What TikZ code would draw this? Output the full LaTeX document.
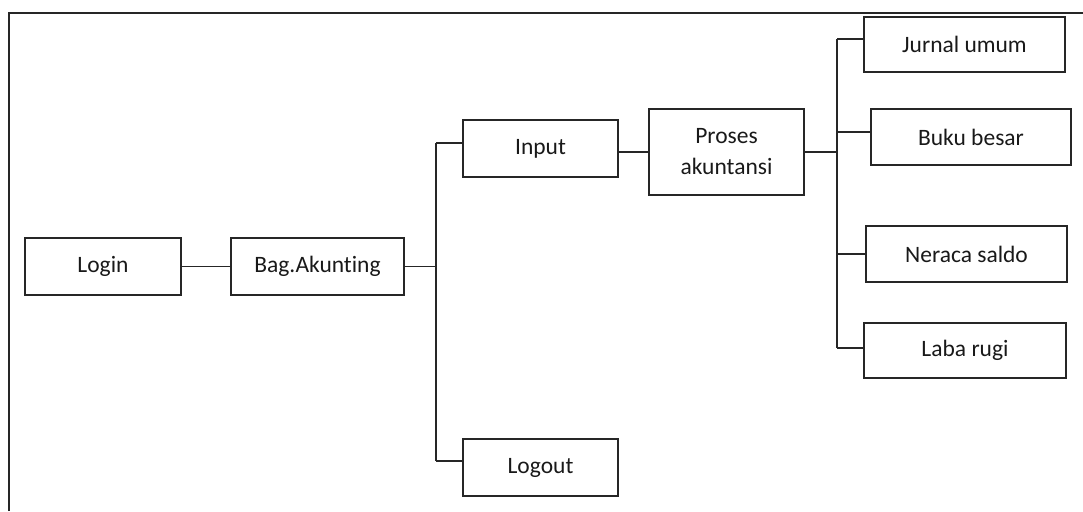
\documentclass[tikz,border=0pt]{standalone}
\usepackage{fontspec}
\setmainfont[Ligatures={NoCommon}]{Carlito}
\begin{document}
\begin{tikzpicture}[x=1pt,y=-1pt,
  box/.style={draw=black!85, line width=1.9pt, rectangle, inner sep=0pt, align=center,
    font=\fontsize{23.5}{31}\selectfont, text=black!90},
  link/.style={draw=black!85, line width=1.9pt}]
\useasboundingbox (0,0) rectangle (1083,511);
% outer frame (cropped)
\draw[line width=1.4pt, black!85] (9,511) -- (9,13) -- (1083,13);
% nodes
\node[box, minimum width=156pt, minimum height=57pt] (login)  at (103,266.5) {Login};
\node[box, minimum width=173pt, minimum height=57pt] (bag)    at (317.5,266.5) {Bag.Akunting};
\node[box, minimum width=155pt, minimum height=57pt] (input)  at (540.5,148.5) {Input};
\node[box, minimum width=155pt, minimum height=86pt] (proses) at (726.5,152) {Proses\\akuntansi};
\node[box, minimum width=155pt, minimum height=57pt] (logout) at (540.5,467.5) {Logout};
\node[box, minimum width=201pt, minimum height=55pt] (jurnal) at (964.5,44.5) {Jurnal umum};
\node[box, minimum width=200pt, minimum height=56pt] (buku)   at (971,137) {Buku besar};
\node[box, minimum width=201pt, minimum height=56pt] (neraca) at (966.5,254) {Neraca saldo};
\node[box, minimum width=202pt, minimum height=55pt] (laba)   at (965,350.5) {Laba rugi};
% trunks
\coordinate (t1a) at (436,143);
\coordinate (t1b) at (436,461);
\coordinate (t2a) at (837,39);
\coordinate (t2b) at (837,348);
\draw[link] (t1a) -- (t1b);
\draw[link] (t2a) -- (t2b);
% connectors
\draw[link] (login.east) -- (bag.west);
\draw[link] (bag.east) -- (bag.east -| t1a);
\draw[link] ([yshift=5.5pt]input.west) -- ([yshift=5.5pt]input.west -| t1a);
\draw[link] ([yshift=6.5pt]logout.west) -- ([yshift=6.5pt]logout.west -| t1a);
\draw[link] (proses.west) -- (proses.west -| input.east);
\draw[link] (proses.east) -- (proses.east -| t2a);
\draw[link] ([yshift=5.5pt]jurnal.west) -- ([yshift=5.5pt]jurnal.west -| t2a);
\draw[link] ([yshift=5pt]buku.west) -- ([yshift=5pt]buku.west -| t2a);
\draw[link] (neraca.west) -- (neraca.west -| t2a);
\draw[link] ([yshift=2.5pt]laba.west) -- ([yshift=2.5pt]laba.west -| t2a);
\end{tikzpicture}
\end{document}
